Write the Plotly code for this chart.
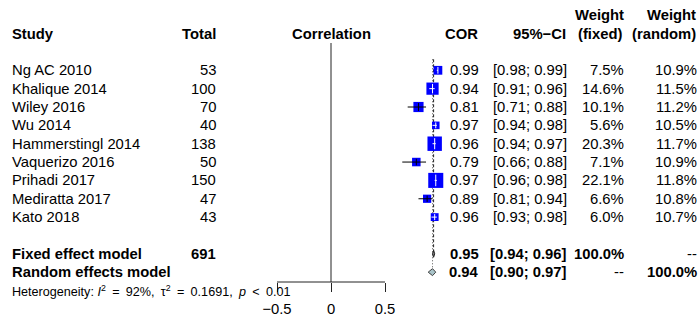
import math
import plotly.graph_objects as go

# ---- data -------------------------------------------------------------
studies = ["Ng AC 2010", "Khalique 2014", "Wiley 2016", "Wu 2014",
           "Hammerstingl 2014", "Vaquerizo 2016", "Prihadi 2017",
           "Mediratta 2017", "Kato 2018"]
totals = [53, 100, 70, 40, 138, 50, 150, 47, 43]
cor = [0.99, 0.94, 0.81, 0.97, 0.96, 0.79, 0.97, 0.89, 0.96]
ci_lo = [0.98, 0.91, 0.71, 0.94, 0.94, 0.66, 0.96, 0.81, 0.93]
ci_hi = [0.99, 0.96, 0.88, 0.98, 0.97, 0.88, 0.98, 0.94, 0.98]
weight_fixed = [7.5, 14.6, 10.1, 5.6, 20.3, 7.1, 22.1, 6.6, 6.0]
weight_random = [10.9, 11.5, 11.2, 10.5, 11.7, 10.9, 11.8, 10.8, 10.7]

fixed_est, fixed_lo, fixed_hi = 0.95, 0.94, 0.96
random_est, random_lo, random_hi = 0.94, 0.90, 0.97
total_n = 691
i2, tau2, p_text = 92, 0.1691, "< 0.01"

axis_ticks = [-0.5, 0, 0.5]
axis_ticktext = ["\u22120.5", "0", "0.5"]

# ---- layout constants -------------------------------------------------
W, H = 699, 320
X0_PX, PPU = 331.0, 108.0          # pixel of x = 0, pixels per unit
ROW0_PX, ROW_PX = 70.3, 18.35      # pixel of row 0, pixels per row
AXIS_PX = 282.0                    # vertical pixel of the x-axis line

x_range = [-X0_PX / PPU, (W - X0_PX) / PPU]
y_range = [(H - ROW0_PX) / ROW_PX, -ROW0_PX / ROW_PX]

FONT = "Arial, Liberation Sans, sans-serif"
FS = 14.8
BLUE = "#0000FF"

ROW_FIXED, ROW_RANDOM, ROW_HET = 10, 11, 12
ROW_HEAD, ROW_HEAD_TOP = -2, -3

fig = go.Figure()

# reference line at 0
fig.add_trace(go.Scatter(
    x=[0, 0], y=[(43 - ROW0_PX) / ROW_PX, (AXIS_PX - ROW0_PX) / ROW_PX],
    mode="lines", line=dict(color="#222222", width=1),
    hoverinfo="skip", showlegend=False))

# pooled-estimate vertical lines
fig.add_trace(go.Scatter(
    x=[fixed_est, fixed_est], y=[-0.6, ROW_FIXED],
    mode="lines", line=dict(color="#222222", width=1, dash="3px,2px"),
    hoverinfo="skip", showlegend=False))
fig.add_trace(go.Scatter(
    x=[random_est, random_est], y=[-0.6, ROW_RANDOM],
    mode="lines", line=dict(color="#555555", width=1, dash="1px,2px"),
    hoverinfo="skip", showlegend=False))

# study boxes
rows = list(range(len(studies)))
box_sizes = [3.2 * math.sqrt(w) for w in weight_fixed]
fig.add_trace(go.Scatter(
    x=cor, y=rows, mode="markers",
    marker=dict(symbol="square", size=box_sizes, color=BLUE, opacity=1,
                line=dict(width=0)),
    hoverinfo="skip", showlegend=False))

# confidence intervals: white when inside the box, black otherwise
seg = {"black": ([], []), "white": ([], [])}
tick = {"black": ([], [], []), "white": ([], [], [])}
for r, est, lo, hi, s in zip(rows, cor, ci_lo, ci_hi, box_sizes):
    half = s / 2 / PPU
    inside = (lo >= est - half) and (hi <= est + half)
    key = "white" if inside else "black"
    seg[key][0].extend([lo, hi, None])
    seg[key][1].extend([r, r, None])
    tick[key][0].append(est)
    tick[key][1].append(r)
    tick[key][2].append(s * 0.55)
for key in ("black", "white"):
    fig.add_trace(go.Scatter(
        x=seg[key][0], y=seg[key][1], mode="lines",
        line=dict(color=key, width=1), hoverinfo="skip", showlegend=False))
    fig.add_trace(go.Scatter(
        x=tick[key][0], y=tick[key][1], mode="markers",
        marker=dict(symbol="line-ns", size=tick[key][2], opacity=1,
                    line=dict(color=key, width=1)),
        hoverinfo="skip", showlegend=False))

# pooled diamonds
DH = 0.19
fig.add_trace(go.Scatter(
    x=[fixed_lo, fixed_est, fixed_hi, fixed_est, fixed_lo],
    y=[ROW_FIXED, ROW_FIXED - DH, ROW_FIXED, ROW_FIXED + DH, ROW_FIXED],
    mode="lines", fill="toself", fillcolor="#808080",
    line=dict(color="#202020", width=1), hoverinfo="skip", showlegend=False))
fig.add_trace(go.Scatter(
    x=[random_lo, random_est, random_hi, random_est, random_lo],
    y=[ROW_RANDOM, ROW_RANDOM - DH, ROW_RANDOM, ROW_RANDOM + DH, ROW_RANDOM],
    mode="lines", fill="toself", fillcolor="#a9c4c9",
    line=dict(color="#404040", width=1), hoverinfo="skip", showlegend=False))

# axis line spanning the tick range
axis_pos = 1 - AXIS_PX / H
fig.add_shape(type="line", xref="x", yref="paper",
              x0=axis_ticks[0], x1=axis_ticks[-1], y0=axis_pos, y1=axis_pos,
              line=dict(color="#222222", width=1))

# ---- text columns -----------------------------------------------------
def text(px, row, s, anchor, size=FS):
    fig.add_annotation(x=px / W, y=row, xref="paper", yref="y", text=s,
                       xanchor=anchor, yanchor="middle", showarrow=False,
                       borderpad=0, borderwidth=0,
                       font=dict(family=FONT, size=size, color="black"))

# header
text(12, ROW_HEAD, "<b>Study</b>", "left")
text(216, ROW_HEAD, "<b>Total</b>", "right")
text(331, ROW_HEAD, "<b>Correlation</b>", "center")
text(478.5, ROW_HEAD, "<b>COR</b>", "right")
text(565.5, ROW_HEAD, "<b>95%\u2212CI</b>", "right")
text(599.5, ROW_HEAD_TOP, "<b>Weight</b>", "center")
text(599.5, ROW_HEAD, "<b>(fixed)</b>", "center")
text(695.5, ROW_HEAD_TOP, "<b>Weight</b>", "right")
text(695.5, ROW_HEAD, "<b>(random)</b>", "right")

# study rows
for r, name, n, est, lo, hi, wf, wr in zip(rows, studies, totals, cor,
                                            ci_lo, ci_hi, weight_fixed,
                                            weight_random):
    text(12, r, name, "left")
    text(215.5, r, str(n), "right")
    text(479, r, f"{est:.2f}", "right")
    text(566.5, r, f"[{lo:.2f}; {hi:.2f}]", "right")
    text(623.5, r, f"{wf:.1f}%", "right")
    text(696.5, r, f"{wr:.1f}%", "right")

# pooled rows
text(12, ROW_FIXED, "<b>Fixed effect model</b>", "left")
text(215.5, ROW_FIXED, f"<b>{total_n}</b>", "right")
text(479, ROW_FIXED, f"<b>{fixed_est:.2f}</b>", "right")
text(566.5, ROW_FIXED, f"<b>[{fixed_lo:.2f}; {fixed_hi:.2f}]</b>", "right")
text(623.5, ROW_FIXED, "<b>100.0%</b>", "right")
text(696.5, ROW_FIXED, "--", "right")

text(12, ROW_RANDOM, "<b>Random effects model</b>", "left")
text(479, ROW_RANDOM, f"<b>{random_est:.2f}</b>", "right")
text(566.5, ROW_RANDOM, f"<b>[{random_lo:.2f}; {random_hi:.2f}]</b>", "right")
text(623.5, ROW_RANDOM, "--", "right")
text(696.5, ROW_RANDOM, "<b>100.0%</b>", "right")

# heterogeneity statistics, with math-style spacing around relations
sp = "\u2002"
text(12, ROW_HET,
     f"Heterogeneity: <i>I</i><sup>2</sup>{sp}={sp}{i2}%,{sp}"
     f"\u03c4<sup>2</sup>{sp}={sp}{tau2:.4f},{sp}"
     f"<i>p</i>{sp}{p_text.replace(' ', sp)}", "left", size=12.6)

fig.update_layout(
    width=W, height=H, margin=dict(l=0, r=0, t=0, b=0),
    paper_bgcolor="white", plot_bgcolor="white",
    xaxis=dict(range=x_range, anchor="free", position=axis_pos,
               showgrid=False, zeroline=False, showline=False,
               ticks="outside", ticklen=9, tickwidth=1, tickcolor="#222222",
               ticklabelstandoff=4,
               tickvals=axis_ticks, ticktext=axis_ticktext,
               tickfont=dict(family=FONT, size=FS, color="black")),
    yaxis=dict(range=y_range, visible=False, showgrid=False, zeroline=False),
)

fig.write_html("out.html")
